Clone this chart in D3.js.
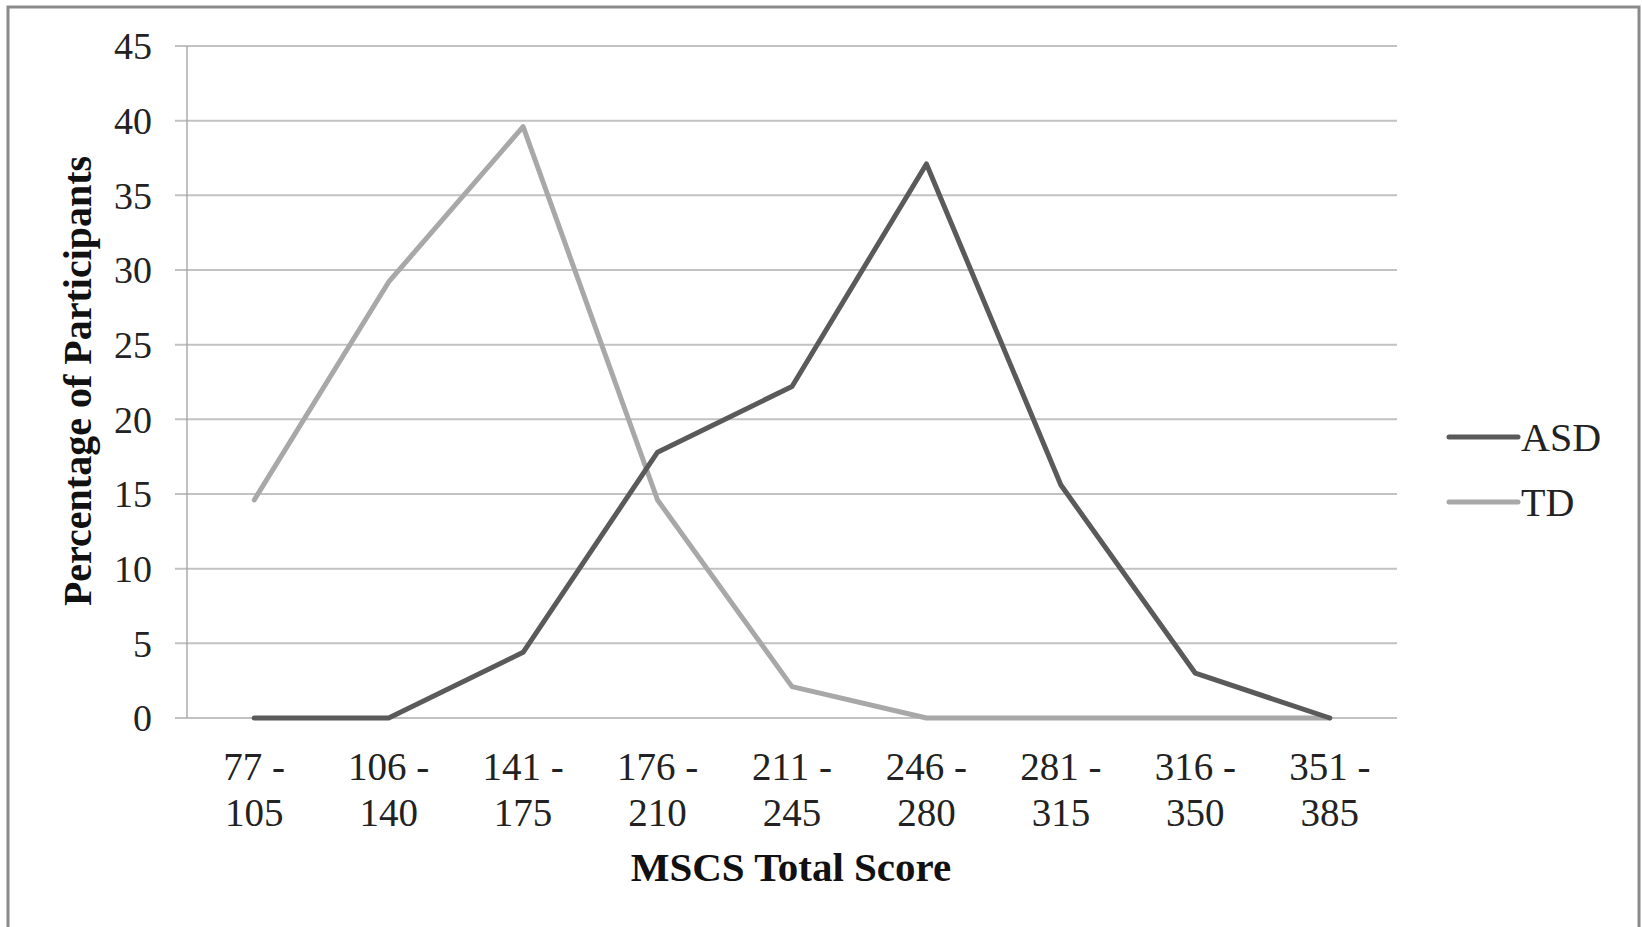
<!DOCTYPE html>
<html><head><meta charset="utf-8">
<script src="https://cdn.jsdelivr.net/npm/d3@7"></script>
<style>html,body{margin:0;padding:0;background:#fff;overflow:hidden}</style>
</head><body>
<svg id="chart" width="1642" height="927"></svg>
<script>
const categories = [["77 -","105"],["106 -","140"],["141 -","175"],["176 -","210"],["211 -","245"],["246 -","280"],["281 -","315"],["316 -","350"],["351 -","385"]];
const asdValues = [0, 0, 4.4, 17.8, 22.2, 37.1, 15.6, 3.0, 0];
const tdValues = [14.6, 29.2, 39.6, 14.6, 2.1, 0, 0, 0, 0];
const yTicks = [0,5,10,15,20,25,30,35,40,45];
const seriesNames = ["ASD","TD"];
const seriesColors = ["#5a5a5a","#a8a8a8"];

(function(){
const svg = d3.select("#chart");
const font = "'Liberation Serif', 'Times New Roman', serif";
svg.append("rect").attr("x",0).attr("y",0).attr("width",1642).attr("height",927).attr("fill","#fff");
svg.append("rect").attr("x",8).attr("y",7).attr("width",1631).attr("height",930)
  .attr("fill","none").attr("stroke","#8a8a8a").attr("stroke-width",3);

const pl = 187, pr = 1397, pt = 46, pb = 718;
const x = d3.scaleBand().domain(categories.map((d,i)=>i)).range([pl,pr]);
const y = d3.scaleLinear().domain([0,45]).range([pb,pt]);
const cx = i => x(i) + x.bandwidth()/2;

const g = svg.append("g");
g.selectAll("line.grid").data(yTicks).join("line")
  .attr("x1",pl-12).attr("x2",pr).attr("y1",d=>y(d)).attr("y2",d=>y(d))
  .attr("stroke","#c2c2c2").attr("stroke-width",2);
g.append("line").attr("x1",pl).attr("x2",pl).attr("y1",pt).attr("y2",pb)
  .attr("stroke","#a0a0a0").attr("stroke-width",1.3);
g.selectAll("text.yt").data(yTicks).join("text")
  .attr("x",152).attr("y",d=>y(d)).attr("dy","0.35em").attr("text-anchor","end")
  .attr("font-family",font).attr("font-size",38).attr("fill","#222").text(d=>d);
const xl = g.selectAll("text.xl").data(categories).join("text")
  .attr("text-anchor","middle").attr("font-family",font).attr("font-size",39).attr("fill","#222");
xl.append("tspan").attr("x",(d,i)=>cx(i)).attr("y",780).text(d=>d[0]);
xl.append("tspan").attr("x",(d,i)=>cx(i)).attr("y",826).text(d=>d[1]);

const line = d3.line().x((d,i)=>cx(i)).y(d=>y(d));
[[tdValues,1],[asdValues,0]].forEach(([vals,idx])=>{
  g.append("path").attr("d",line(vals)).attr("fill","none")
   .attr("stroke",seriesColors[idx]).attr("stroke-width",5)
   .attr("stroke-linejoin","round").attr("stroke-linecap","round");
});

svg.append("text").attr("x",791).attr("y",881).attr("text-anchor","middle")
  .attr("font-family",font).attr("font-weight","bold").attr("font-size",41).attr("fill","#111")
  .text("MSCS Total Score");
svg.append("text").attr("transform","translate(91,381) rotate(-90)").attr("text-anchor","middle")
  .attr("font-family",font).attr("font-weight","bold").attr("font-size",40).attr("fill","#111")
  .text("Percentage of Participants");

const leg = svg.append("g");
seriesNames.forEach((n,i)=>{
  const ly = 437 + i*65;
  leg.append("line").attr("x1",1449).attr("x2",1518).attr("y1",ly).attr("y2",ly)
    .attr("stroke",seriesColors[i]).attr("stroke-width",5).attr("stroke-linecap","round");
  leg.append("text").attr("x",1521).attr("y",ly).attr("dy","0.35em")
    .attr("font-family",font).attr("font-size",40).attr("fill","#222").text(n);
});
})();
</script>
</body></html>
